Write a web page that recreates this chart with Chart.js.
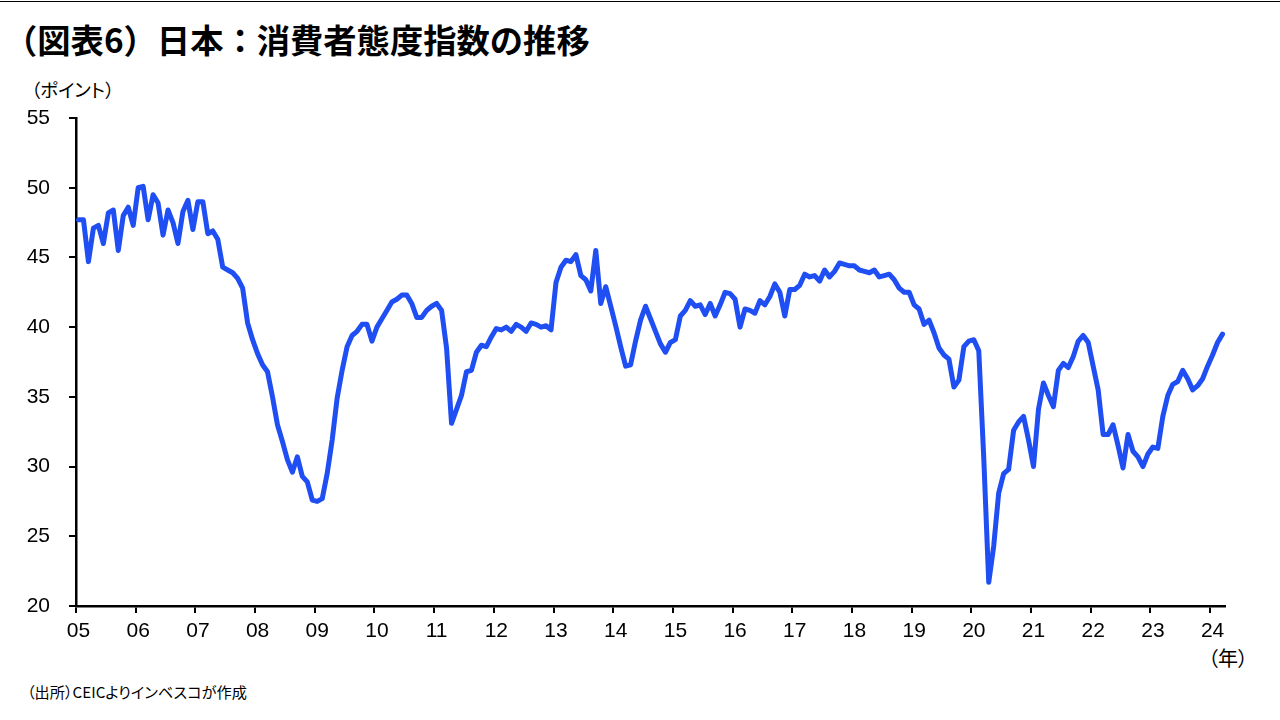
<!DOCTYPE html>
<html lang="ja">
<head>
<meta charset="utf-8">
<script src="https://cdn.jsdelivr.net/npm/chart.js@4.4.1/dist/chart.umd.min.js"></script>
<style>
  html, body { margin: 0; padding: 0; background: #fff; }
  #wrap { position: relative; width: 1280px; height: 720px; overflow: hidden; background: #fff; }
  #topline { position: absolute; left: 0; top: 1px; width: 1280px; height: 1px; background: #000; }
  #title { position: absolute; left: 4px; top: 21px; font-family: "Noto Sans CJK JP", sans-serif; font-weight: 700; font-size: 33.3px; line-height: 36px; color: #000; white-space: nowrap; }
  .jp { position: absolute; font-family: "Noto Sans CJK JP", sans-serif; font-feature-settings: "palt" 1; color: #000; white-space: nowrap; }
  #yunit { left: 31px; top: 78px; font-size: 18.5px; line-height: 22px; }
  #xunit { left: 1208px; top: 646px; font-size: 20px; line-height: 24px; }
  #source { left: 27px; top: 682px; font-size: 15.2px; line-height: 18px; }
  canvas { position: absolute; left: 0; top: 0; }
</style>
</head>
<body>
<div id="wrap">
  <div id="topline"></div>
  <div id="title">（図表6）日本：消費者態度指数の推移</div>
  <div class="jp" id="yunit">（ポイント）</div>
  <div class="jp" id="xunit">（年）</div>
  <div class="jp" id="source">（出所）CEICよりインベスコが作成</div>
  <canvas id="c" width="1280" height="720"></canvas>
</div>
<script>
// Monthly consumer confidence index, Jan 2005 - Mar 2024
const v2005 = [47.7, 47.7, 44.7, 47.1, 47.3, 46.0, 48.2, 48.4, 45.5, 48.0, 48.6, 47.3];
const v2006 = [50.0, 50.1, 47.7, 49.5, 48.9, 46.6, 48.4, 47.5, 46.0, 48.3, 49.1, 47.0];
const v2007 = [49.0, 49.0, 46.7, 46.9, 46.3, 44.3, 44.1, 43.9, 43.5, 42.8, 40.3, 39.1];
const v2008 = [38.1, 37.3, 36.8, 35.0, 33.0, 31.8, 30.5, 29.6, 30.7, 29.3, 28.9, 27.6];
const v2009 = [27.5, 27.7, 29.5, 31.9, 34.9, 36.9, 38.6, 39.4, 39.7, 40.2, 40.2, 39.0];
const v2010 = [40.0, 40.6, 41.2, 41.8, 42.0, 42.3, 42.3, 41.7, 40.7, 40.7, 41.2, 41.5];
const v2011 = [41.7, 41.2, 38.5, 33.1, 34.1, 35.1, 36.8, 36.9, 38.2, 38.7, 38.6, 39.3];
const v2012 = [39.9, 39.8, 40.0, 39.7, 40.2, 40.0, 39.7, 40.3, 40.2, 40.0, 40.1, 39.8];
const v2013 = [43.2, 44.3, 44.8, 44.7, 45.2, 43.7, 43.4, 42.6, 45.5, 41.7, 42.9, 41.5];
const v2014 = [40.1, 38.6, 37.2, 37.3, 39.0, 40.5, 41.5, 40.6, 39.7, 38.8, 38.2, 38.9];
const v2015 = [39.1, 40.8, 41.2, 41.9, 41.5, 41.6, 40.9, 41.7, 40.8, 41.6, 42.5, 42.4];
const v2016 = [42.0, 40.0, 41.3, 41.2, 41.0, 41.9, 41.6, 42.2, 43.1, 42.5, 40.8, 42.7];
const v2017 = [42.7, 43.0, 43.8, 43.6, 43.7, 43.3, 44.1, 43.6, 44.0, 44.6, 44.5, 44.4];
const v2018 = [44.4, 44.1, 44.0, 43.9, 44.1, 43.6, 43.7, 43.8, 43.4, 42.8, 42.5, 42.5];
const v2019 = [41.6, 41.3, 40.2, 40.5, 39.6, 38.5, 38.0, 37.7, 35.7, 36.2, 38.6, 39.0];
const v2020 = [39.1, 38.3, 30.6, 21.7, 24.3, 28.1, 29.5, 29.8, 32.6, 33.2, 33.6, 31.9];
const v2021 = [30.0, 34.1, 36.0, 35.1, 34.3, 36.9, 37.4, 37.1, 37.9, 39.0, 39.4, 38.9];
const v2022 = [37.2, 35.5, 32.3, 32.3, 33.0, 31.5, 29.9, 32.3, 31.1, 30.7, 30.0, 30.9];
const v2023 = [31.4, 31.3, 33.6, 35.1, 35.9, 36.1, 36.9, 36.3, 35.5, 35.8, 36.3, 37.2];
const v2024 = [38.0, 38.9, 39.5];

const yearLabels = ['05','06','07','08','09','10','11','12','13','14','15','16','17','18','19','20','21','22','23','24'];
const yTickValues = [20, 25, 30, 35, 40, 45, 50, 55];

const series = [].concat(v2005, v2006, v2007, v2008, v2009, v2010, v2011, v2012, v2013, v2014,
  v2015, v2016, v2017, v2018, v2019, v2020, v2021, v2022, v2023, v2024);
const points = series.map((v, i) => ({ x: i, y: v }));

const AXIS_LEFT = 76, AXIS_RIGHT = 1225, AXIS_TOP = 118, AXIS_BOTTOM = 606;

new Chart(document.getElementById('c'), {
  type: 'line',
  data: {
    datasets: [{
      data: points,
      borderColor: '#1f4ef2',
      borderWidth: 5,
      pointRadius: 0,
      tension: 0,
      borderJoinStyle: 'round',
      borderCapStyle: 'round',
      fill: false
    }]
  },
  options: {
    responsive: false,
    animation: false,
    devicePixelRatio: 1,
    layout: { padding: { left: 0, top: AXIS_TOP, right: 1280 - AXIS_RIGHT, bottom: 0 } },
    plugins: { legend: { display: false }, tooltip: { enabled: false } },
    scales: {
      x: {
        type: 'linear',
        min: -0.5,
        max: series.length - 0.5,
        afterFit: (s) => { s.height = 720 - AXIS_BOTTOM; },
        afterBuildTicks: (s) => { s.ticks = yearLabels.map((_, k) => ({ value: -0.5 + 12 * k })); },
        border: { display: true, color: '#000', width: 2.5 },
        grid: { drawOnChartArea: false, drawTicks: true, tickLength: 7, color: '#000', lineWidth: 2 },
        ticks: {
          autoSkip: false, maxRotation: 0, minRotation: 0,
          padding: 6, labelOffset: 2.5,
          color: '#000',
          font: { family: 'Liberation Sans', size: 21 },
          callback: (value, index) => yearLabels[index]
        }
      },
      y: {
        type: 'linear',
        min: 20, max: 55,
        afterFit: (s) => { s.width = AXIS_LEFT; },
        afterBuildTicks: (s) => { s.ticks = yTickValues.map(v => ({ value: v })); },
        border: { display: true, color: '#000', width: 2.5 },
        grid: { drawOnChartArea: false, drawTicks: true, tickLength: 7, color: '#000', lineWidth: 2 },
        ticks: {
          padding: 19,
          color: '#000',
          font: { family: 'Liberation Sans', size: 21 },
          callback: (v) => String(v)
        }
      }
    }
  }
});
</script>
</body>
</html>
